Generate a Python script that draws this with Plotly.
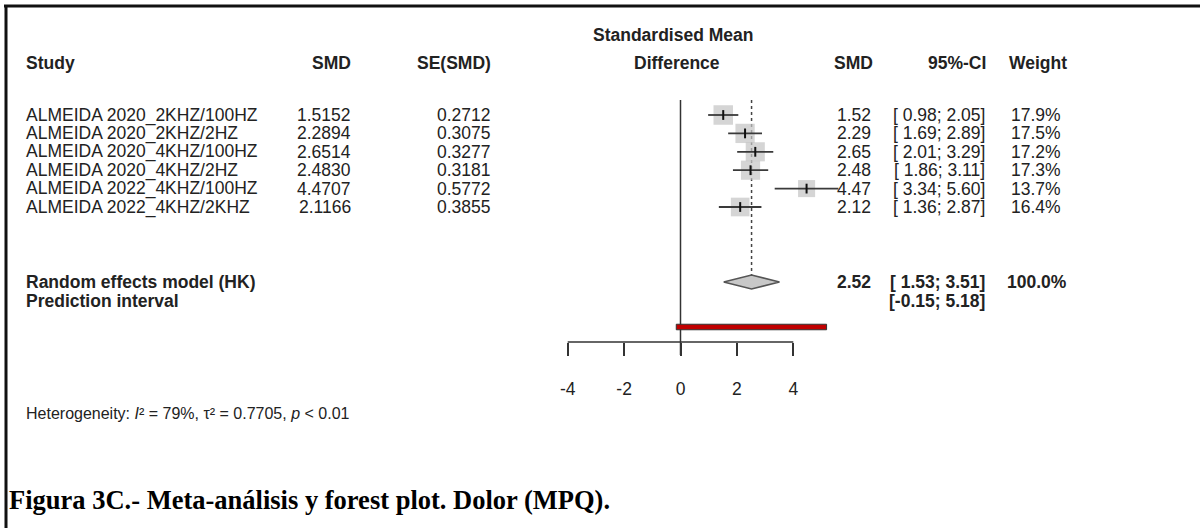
import plotly.graph_objects as go

# ---------------- data ----------------
studies = ["ALMEIDA 2020_2KHZ/100HZ", "ALMEIDA 2020_2KHZ/2HZ", "ALMEIDA 2020_4KHZ/100HZ",
           "ALMEIDA 2020_4KHZ/2HZ", "ALMEIDA 2022_4KHZ/100HZ", "ALMEIDA 2022_4KHZ/2KHZ"]
smd = [1.5152, 2.2894, 2.6514, 2.4830, 4.4707, 2.1166]
se_smd = [0.2712, 0.3075, 0.3277, 0.3181, 0.5772, 0.3855]
ci_low = [0.98, 1.69, 2.01, 1.86, 3.34, 1.36]
ci_high = [2.05, 2.89, 3.29, 3.11, 5.60, 2.87]
weights = [17.9, 17.5, 17.2, 17.3, 13.7, 16.4]
pooled = [2.52, 1.53, 3.51]          # estimate, lower, upper
pred_int = [-0.15, 5.18]
tick_vals = [-4, -2, 0, 2, 4]
het_I2 = "79%"
het_tau2 = "0.7705"
het_p = "&lt; 0.01"
caption = "Figura 3C.- Meta-análisis y forest plot. Dolor (MPQ)."

# ---------------- layout helpers ----------------
W, H = 1200, 528
ZERO_PX, UNIT_PX = 680.5, 28.2           # x scale
ROW0_PX, ROW_PX = 115.0, 18.4            # y scale (rows)
xr = [-ZERO_PX / UNIT_PX, (W - ZERO_PX) / UNIT_PX]
yr = [(H - ROW0_PX) / ROW_PX, -ROW0_PX / ROW_PX]
def px(x):
    return x / W
def row_of(y_px):
    return (y_px - ROW0_PX) / ROW_PX

FONT = "Liberation Sans, Arial, sans-serif"
TXT = "#222222"
FS = 17.5
NB = "\u00a0"

n = len(studies)
rows = list(range(n))
row_re = row_of(282)
row_pi_txt = row_of(301)
row_pi_bar = row_of(327)
row_hdr2 = row_of(63)
row_hdr1 = row_of(35)
axis_row = row_of(342)
tick_end_row = row_of(355)
top_row = row_of(100)

fig = go.Figure()

# CI lines
cx, cy = [], []
for lo, hi, r in zip(ci_low, ci_high, rows):
    cx += [lo, hi, None]
    cy += [r, r, None]

# squares
fig.add_trace(go.Scatter(
    x=smd, y=rows, mode="markers",
    marker=dict(symbol="square", color="#C3C3C3",
                size=[19.5 * (w / max(weights)) ** 0.5 for w in weights],
                line=dict(width=0)),
    hoverinfo="skip", showlegend=False))
fig.add_trace(go.Scatter(x=cx, y=cy, mode="lines",
                         line=dict(color="#3a3a3a", width=1.8),
                         hoverinfo="skip", showlegend=False))
fig.add_trace(go.Scatter(
    x=smd, y=rows, mode="markers",
    marker=dict(symbol="line-ns", size=7, line=dict(color="#111111", width=2)),
    hoverinfo="skip", showlegend=False))

# diamond
dh = 0.38
fig.add_trace(go.Scatter(
    x=[pooled[1], pooled[0], pooled[2], pooled[0], pooled[1]],
    y=[row_re, row_re - dh, row_re, row_re + dh, row_re],
    mode="lines", fill="toself", fillcolor="#C8C8C8",
    line=dict(color="#555555", width=1.5), hoverinfo="skip", showlegend=False))

# prediction interval bar
ph = 0.15
fig.add_trace(go.Scatter(
    x=[pred_int[0], pred_int[1], pred_int[1], pred_int[0], pred_int[0]],
    y=[row_pi_bar - ph, row_pi_bar - ph, row_pi_bar + ph, row_pi_bar + ph, row_pi_bar - ph],
    mode="lines", fill="toself", fillcolor="#C00000",
    line=dict(color="#333333", width=1), hoverinfo="skip", showlegend=False))

shapes = []
# zero line
shapes.append(dict(type="line", xref="x", yref="y", x0=0, x1=0, y0=top_row, y1=tick_end_row,
                   line=dict(color="#333333", width=1.5), layer="below"))
# dotted pooled line
shapes.append(dict(type="line", xref="x", yref="y", x0=pooled[0], x1=pooled[0],
                   y0=top_row, y1=row_re - dh,
                   line=dict(color="#444444", width=1.5, dash="dot"), layer="below"))
# axis line
shapes.append(dict(type="line", xref="x", yref="y", x0=min(tick_vals), x1=max(tick_vals),
                   y0=axis_row, y1=axis_row, line=dict(color="#333333", width=1.5)))
# frame
shapes.append(dict(type="line", xref="paper", yref="paper", x0=px(4), x1=1.0,
                   y0=1 - 6 / H, y1=1 - 6 / H, line=dict(color="#111111", width=3)))
shapes.append(dict(type="line", xref="paper", yref="paper", x0=px(6), x1=px(6),
                   y0=0, y1=1 - 5 / H, line=dict(color="#111111", width=3)))

ann = []
def text(x_px, row, s, anchor="left", bold=False, size=FS, family=FONT, color=TXT):
    if bold:
        s = "<b>" + s + "</b>"
    ann.append(dict(x=px(x_px), xref="paper", y=row, yref="y", text=s, showarrow=False,
                    xanchor=anchor, yanchor="middle", borderpad=0,
                    font=dict(family=family, size=size, color=color)))

# headers
text(25, row_hdr2, "Study", bold=True)
text(352, row_hdr2, "SMD", anchor="right", bold=True)
text(492, row_hdr2, "SE(SMD)", anchor="right", bold=True)
text(673, row_hdr1, "Standardised Mean", anchor="center", bold=True)
text(677, row_hdr2, "Difference", anchor="center", bold=True)
text(874, row_hdr2, "SMD", anchor="right", bold=True)
text(987, row_hdr2, "95%-CI", anchor="right", bold=True)
text(1068, row_hdr2, "Weight", anchor="right", bold=True)

# study rows
for r, name, m, s, lo, hi, w in zip(rows, studies, smd, se_smd, ci_low, ci_high, weights):
    text(25, r, name)
    text(352, r, f"{m:.4f}", anchor="right")
    text(492, r, f"{s:.4f}", anchor="right")
    text(872, r, f"{m:.2f}", anchor="right")
    text(986, r, f"[{lo:5.2f}; {hi:4.2f}]".replace(" ", NB), anchor="right")
    text(1062, r, f"{w:.1f}%", anchor="right")

# pooled
text(25, row_re, "Random effects model (HK)", bold=True)
text(872, row_re, f"{pooled[0]:.2f}", anchor="right", bold=True)
text(986, row_re, f"[{pooled[1]:5.2f}; {pooled[2]:4.2f}]".replace(" ", NB), anchor="right", bold=True)
text(1068, row_re, "100.0%", anchor="right", bold=True)
text(25, row_pi_txt, "Prediction interval", bold=True)
text(986, row_pi_txt, f"[{pred_int[0]:.2f}; {pred_int[1]:.2f}]", anchor="right", bold=True)

# heterogeneity
text(25, row_of(413),
     f"Heterogeneity: <i>I</i>² = {het_I2}, τ² = {het_tau2}, <i>p</i> {het_p}",
     size=16)

# caption
text(8, row_of(500), caption, bold=True, size=26.5,
     family="Liberation Serif, Times New Roman, serif", color="#000000")

fig.update_layout(
    width=W, height=H, margin=dict(l=0, r=0, t=0, b=0),
    paper_bgcolor="white", plot_bgcolor="white",
    showlegend=False, shapes=shapes, annotations=ann,
    xaxis=dict(range=xr, domain=[0, 1], anchor="free", position=1 - 342 / H,
               showgrid=False, zeroline=False, showline=False,
               tickmode="array", tickvals=tick_vals, ticktext=[str(v) for v in tick_vals],
               ticks="outside", ticklen=13, tickwidth=1.5, tickcolor="#333333",
               tickfont=dict(family=FONT, size=FS, color=TXT), ticklabelstandoff=18,
               fixedrange=True),
    yaxis=dict(range=yr, domain=[0, 1], visible=False, fixedrange=True),
)

fig.write_html("out.html", config={"displayModeBar": False})
